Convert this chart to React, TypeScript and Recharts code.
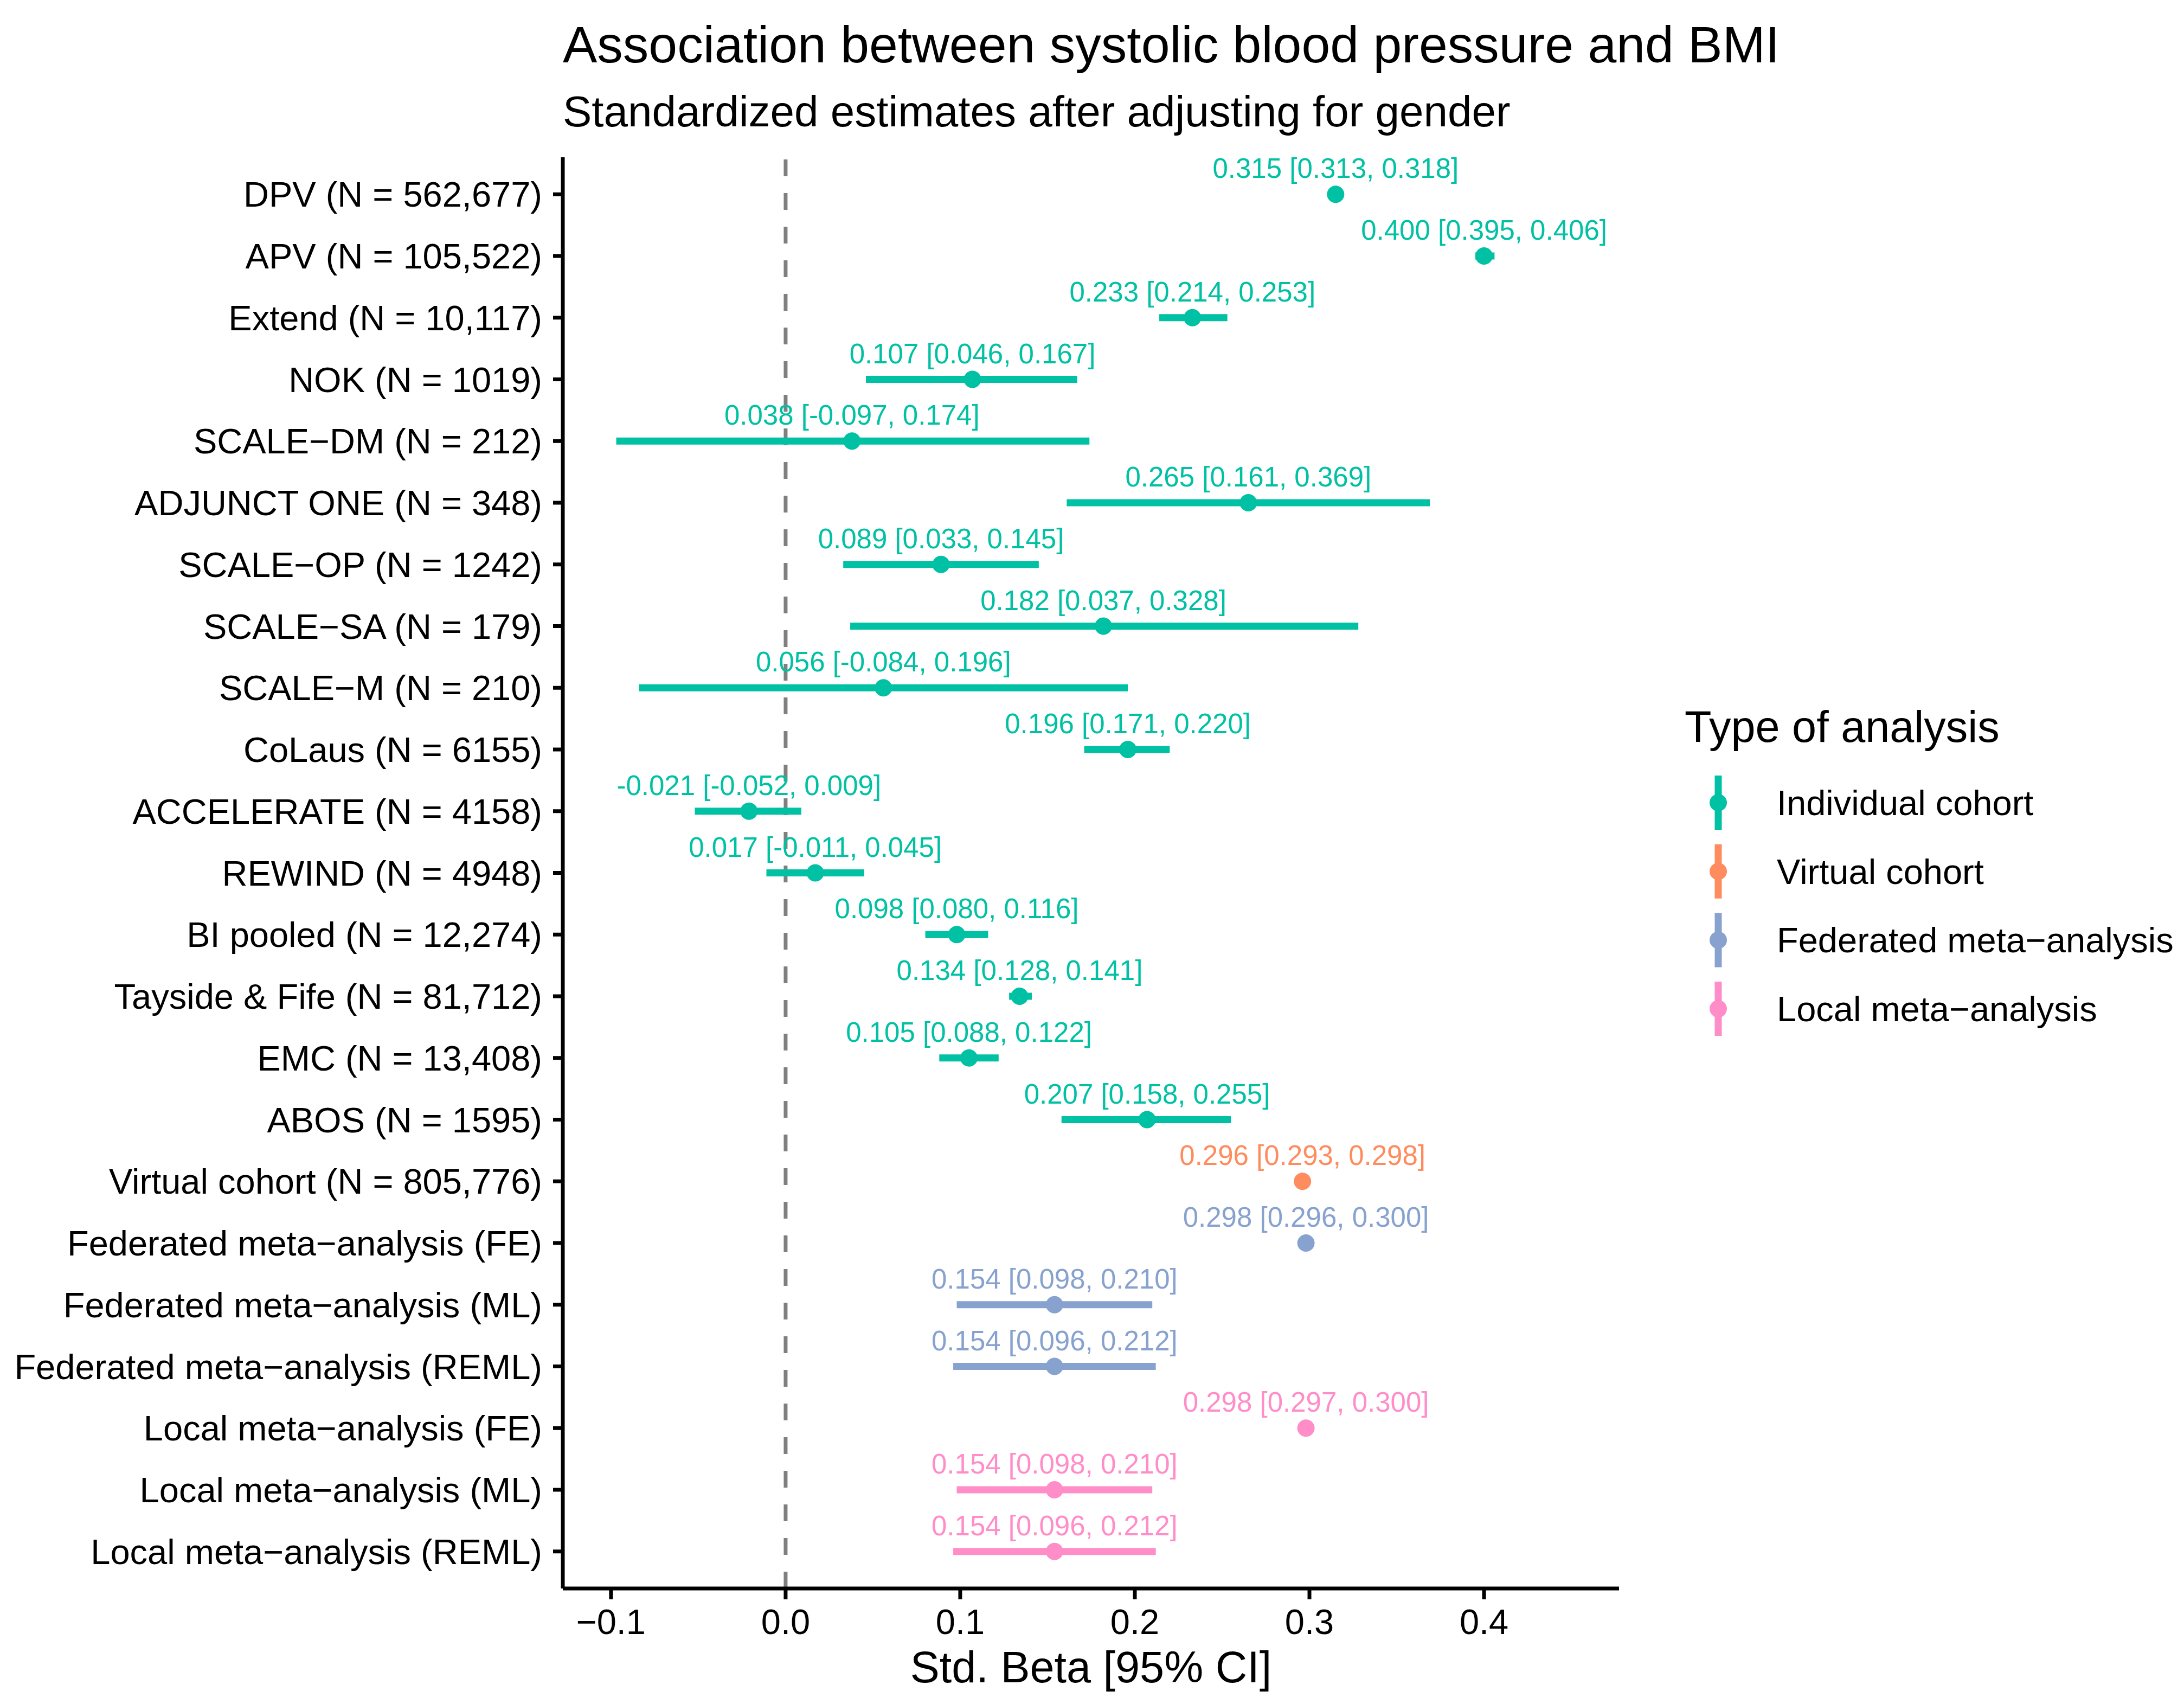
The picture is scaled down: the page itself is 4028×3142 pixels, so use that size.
import React from "react";
import { ScatterChart, Scatter, XAxis, YAxis, ErrorBar, ReferenceLine } from "recharts";

const names = [
  "DPV (N = 562,677)",
  "APV (N = 105,522)",
  "Extend (N = 10,117)",
  "NOK (N = 1019)",
  "SCALE\u2212DM (N = 212)",
  "ADJUNCT ONE (N = 348)",
  "SCALE\u2212OP (N = 1242)",
  "SCALE\u2212SA (N = 179)",
  "SCALE\u2212M (N = 210)",
  "CoLaus (N = 6155)",
  "ACCELERATE (N = 4158)",
  "REWIND (N = 4948)",
  "BI pooled (N = 12,274)",
  "Tayside & Fife (N = 81,712)",
  "EMC (N = 13,408)",
  "ABOS (N = 1595)",
  "Virtual cohort (N = 805,776)",
  "Federated meta\u2212analysis (FE)",
  "Federated meta\u2212analysis (ML)",
  "Federated meta\u2212analysis (REML)",
  "Local meta\u2212analysis (FE)",
  "Local meta\u2212analysis (ML)",
  "Local meta\u2212analysis (REML)",
];

const estimates = [
  0.315, 0.4, 0.233, 0.107, 0.038, 0.265, 0.089, 0.182, 0.056, 0.196, -0.021, 0.017,
  0.098, 0.134, 0.105, 0.207, 0.296, 0.298, 0.154, 0.154, 0.298, 0.154, 0.154,
];
const lowers = [
  0.313, 0.395, 0.214, 0.046, -0.097, 0.161, 0.033, 0.037, -0.084, 0.171, -0.052, -0.011,
  0.08, 0.128, 0.088, 0.158, 0.293, 0.296, 0.098, 0.096, 0.297, 0.098, 0.096,
];
const uppers = [
  0.318, 0.406, 0.253, 0.167, 0.174, 0.369, 0.145, 0.328, 0.196, 0.22, 0.009, 0.045,
  0.116, 0.141, 0.122, 0.255, 0.298, 0.3, 0.21, 0.212, 0.3, 0.21, 0.212,
];
const groupOf = [
  0, 0, 0, 0, 0, 0, 0, 0, 0, 0, 0, 0, 0, 0, 0, 0, 1, 2, 2, 2, 3, 3, 3,
];

const groupNames = ["Individual cohort", "Virtual cohort", "Federated meta\u2212analysis", "Local meta\u2212analysis"];
const groupColors = ["#00C1A3", "#FF8C5E", "#87A2CF", "#FF8DC8"];

const xTicks = [-0.1, 0, 0.1, 0.2, 0.3, 0.4];

const FONT = '"Liberation Sans", Arial, Helvetica, sans-serif';

const fmt = (v: number) => v.toFixed(3);

const rows = names.map((name, i) => ({
  idx: i,
  name,
  est: estimates[i],
  lo: lowers[i],
  hi: uppers[i],
  err: [estimates[i] - lowers[i], uppers[i] - estimates[i]],
  group: groupOf[i],
  label: `${fmt(estimates[i])} [${fmt(lowers[i])}, ${fmt(uppers[i])}]`,
}));

const W = 4028;
const H = 3142;

const makeShape = (color: string) => (props: any) => {
  const { cx, cy, payload } = props;
  if (cx == null || cy == null) return <g />;
  return (
    <g>
      <circle cx={cx} cy={cy} r={16} fill={color} />
      <text
        x={cx}
        y={cy - 30}
        textAnchor="middle"
        fontSize={51}
        fontFamily={FONT}
        fill={color}
      >
        {payload.label}
      </text>
    </g>
  );
};

export default function App() {
  return (
    <div style={{ position: "absolute", left: 0, top: 0, width: W, height: H, background: "#fff" }}>
      <ScatterChart
        width={W}
        height={H}
        margin={{ top: 290, right: 1042, bottom: 153, left: 38 }}
      >
        <XAxis
          type="number"
          dataKey="est"
          domain={[-0.1276, 0.4773]}
          allowDataOverflow
          ticks={xTicks}
          interval={0}
          tickFormatter={(v: number) => v.toFixed(1).replace("-", "\u2212")}
          height={60}
          tickSize={20}
          tickMargin={18}
          axisLine={{ stroke: "#000", strokeWidth: 7 }}
          tickLine={{ stroke: "#000", strokeWidth: 7 }}
          tick={{ fontSize: 65, fill: "#000", fontFamily: FONT }}
        />
        <YAxis
          type="number"
          dataKey="idx"
          domain={[-0.6, 22.6]}
          allowDataOverflow
          reversed
          ticks={names.map((_, i) => i)}
          interval={0}
          tickFormatter={(v: number) => names[v] ?? ""}
          width={1000}
          tickSize={18}
          tickMargin={20}
          axisLine={{ stroke: "#000", strokeWidth: 7 }}
          tickLine={{ stroke: "#000", strokeWidth: 7 }}
          tick={{ fontSize: 65, fill: "#000", fontFamily: FONT }}
        />
        <ReferenceLine x={0} stroke="#7f7f7f" strokeWidth={7} strokeDasharray="31 31" />
        {groupNames.map((g, gi) => (
          <Scatter
            key={g}
            name={g}
            data={rows.filter((r) => r.group === gi)}
            fill={groupColors[gi]}
            isAnimationActive={false}
            shape={makeShape(groupColors[gi])}
          >
            <ErrorBar
              dataKey="err"
              direction="x"
              width={0}
              stroke={groupColors[gi]}
              strokeWidth={13}
              isAnimationActive={false}
            />
          </Scatter>
        ))}
      </ScatterChart>
      <svg
        width={W}
        height={H}
        style={{ position: "absolute", left: 0, top: 0, pointerEvents: "none" }}
      >
        <text x={1038} y={115} fontSize={95} fontFamily={FONT} fill="#000">
          Association between systolic blood pressure and BMI
        </text>
        <text x={1038} y={233} fontSize={80} fontFamily={FONT} fill="#000">
          Standardized estimates after adjusting for gender
        </text>
        <text x={2012} y={3102} fontSize={81} fontFamily={FONT} fill="#000" textAnchor="middle">
          Std. Beta [95% CI]
        </text>
        <text x={3107} y={1368} fontSize={81} fontFamily={FONT} fill="#000">
          Type of analysis
        </text>
        {groupNames.map((g, gi) => {
          const cy = 1480 + gi * 126.7;
          return (
            <g key={g}>
              <line x1={3169} x2={3169} y1={cy - 50} y2={cy + 50} stroke={groupColors[gi]} strokeWidth={13} />
              <circle cx={3169} cy={cy} r={16} fill={groupColors[gi]} />
              <text x={3277} y={cy} dy="0.355em" fontSize={65} fontFamily={FONT} fill="#000">
                {g}
              </text>
            </g>
          );
        })}
      </svg>
    </div>
  );
}
